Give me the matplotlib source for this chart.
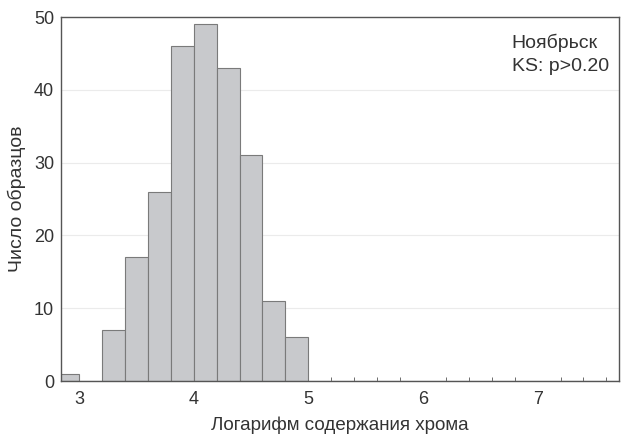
import matplotlib
matplotlib.use("Agg")
import matplotlib.pyplot as plt
import numpy as np

plt.rcParams['font.family'] = ['Liberation Sans', 'DejaVu Sans']

# bin left edges (width 0.2) and counts
bin_left = [2.8, 3.0, 3.2, 3.4, 3.6, 3.8, 4.0, 4.2, 4.4, 4.6, 4.8,
            5.0, 5.2, 5.4, 5.6, 5.8, 6.0, 6.2, 6.4, 6.6, 6.8, 7.0, 7.2, 7.4, 7.6]
counts = [1, 0, 7, 17, 26, 46, 49, 43, 31, 11, 6,
          0, 0, 0, 0, 0, 0, 0, 0, 0, 0, 0, 0, 0, 0]
bin_width = 0.2
xticks = [3, 4, 5, 6, 7]
yticks = [0, 10, 20, 30, 40, 50]

fig = plt.figure(figsize=(6.25, 4.34), dpi=100)
ax = fig.add_axes([61/625, 1 - 381/434, (619-61)/625, (381-17)/434])

ax.bar(bin_left, counts, width=bin_width, align='edge',
       color='#c8c9cc', edgecolor='#7a7a7a', linewidth=0.8, zorder=2)

ax.set_xlim(2.843, 7.71)
ax.set_ylim(0, 50)
ax.set_xticks(xticks)
ax.set_yticks(yticks)
# small marks at bin edges beyond the data
ax.set_xticks(bin_left[12:], minor=True)
ax.tick_params(axis='x', which='minor', direction='in', length=3, color='#555555')
ax.tick_params(axis='both', which='major', length=0, labelsize=13, colors='#333333')
ax.tick_params(axis='x', which='major', pad=7)
ax.tick_params(axis='y', which='major', pad=5)

ax.grid(axis='y', color='#ebebeb', linewidth=0.8, zorder=0)
for s in ax.spines.values():
    s.set_color('#555555')
    s.set_linewidth(1.0)

ax.set_xlabel('Логарифм содержания хрома', fontsize=13.5, color='#333333', labelpad=6)
ax.set_ylabel('Число образцов', fontsize=14, color='#333333', labelpad=6)

ax.text(0.808, 0.955, 'Ноябрьск\nKS: p>0.20', transform=ax.transAxes,
        fontsize=14, color='#333333', va='top', ha='left', linespacing=1.45)

fig.savefig('out.png', dpi=100)
